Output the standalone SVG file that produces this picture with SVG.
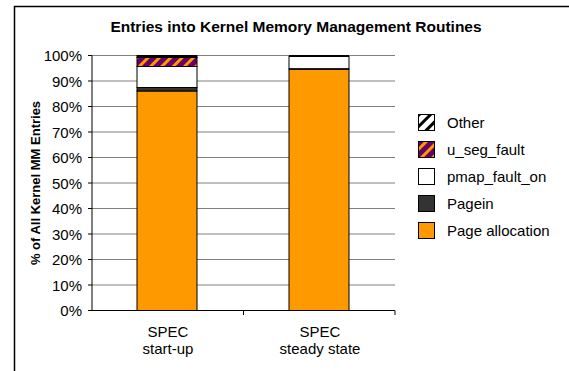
<svg xmlns="http://www.w3.org/2000/svg" width="569" height="371" viewBox="0 0 569 371">
<defs>
<style>
text{font-family:"Liberation Sans",Arial,sans-serif;fill:#000}
.t{font-size:15.5px;font-weight:bold}
.yt{font-size:13px;font-weight:bold}
.ax{font-size:15px;text-anchor:end}
.cat{font-size:15px;text-anchor:middle}
.lg{font-size:15px}
.grid{stroke:#808080;stroke-width:1}
.axis{stroke:#000;stroke-width:1}
.seg{stroke:#000;stroke-width:1}
</style>
<pattern id="useg" width="8" height="8" patternUnits="userSpaceOnUse" patternTransform="rotate(45)">
<rect width="8" height="8" fill="#660066"/>
<rect width="3" height="8" fill="#FF9900"/>
</pattern>
<pattern id="other" width="8" height="8" patternUnits="userSpaceOnUse" patternTransform="rotate(45)">
<rect width="8" height="8" fill="#fff"/>
<rect width="3" height="8" fill="#000"/>
</pattern>
</defs>
<rect x="14.5" y="6.5" width="600" height="400" fill="#fff" stroke="#000" stroke-width="1.5"/>
<text class="t" x="296" y="32" text-anchor="middle">Entries into Kernel Memory Management Routines</text>
<g id="grid">
<line class="grid" x1="92" y1="55.5" x2="395" y2="55.5"/>
<line class="grid" x1="92" y1="81" x2="395" y2="81"/>
<line class="grid" x1="92" y1="106.5" x2="395" y2="106.5"/>
<line class="grid" x1="92" y1="132" x2="395" y2="132"/>
<line class="grid" x1="92" y1="157.5" x2="395" y2="157.5"/>
<line class="grid" x1="92" y1="183" x2="395" y2="183"/>
<line class="grid" x1="92" y1="208.5" x2="395" y2="208.5"/>
<line class="grid" x1="92" y1="234" x2="395" y2="234"/>
<line class="grid" x1="92" y1="259.5" x2="395" y2="259.5"/>
<line class="grid" x1="92" y1="285" x2="395" y2="285"/>
</g>
<g id="axis-labels">
<text class="ax" x="82" y="61">100%</text>
<text class="ax" x="82" y="86.5">90%</text>
<text class="ax" x="82" y="112">80%</text>
<text class="ax" x="82" y="137.5">70%</text>
<text class="ax" x="82" y="163">60%</text>
<text class="ax" x="82" y="188.5">50%</text>
<text class="ax" x="82" y="214">40%</text>
<text class="ax" x="82" y="239.5">30%</text>
<text class="ax" x="82" y="265">20%</text>
<text class="ax" x="82" y="290.5">10%</text>
<text class="ax" x="82" y="316">0%</text>
<text class="yt" transform="translate(40,183) rotate(-90)" text-anchor="middle">% of All Kernel MM Entries</text>
</g>
<g id="bar-startup">
<rect class="seg" x="137" y="91" width="60" height="219.5" fill="#FF9900" stroke="#404040"/>
<rect class="seg" x="137" y="87.5" width="60" height="3.5" fill="#333"/>
<rect class="seg" x="137" y="66.5" width="60" height="21" fill="#fff"/>
<rect class="seg" x="137" y="57.5" width="60" height="9" fill="url(#useg)"/>
<rect class="seg" x="137" y="55.5" width="60" height="2" fill="#000"/>
</g>
<g id="bar-steady">
<rect class="seg" x="289" y="69" width="60" height="241.5" fill="#FF9900" stroke="#404040"/>
<rect class="seg" x="289" y="56.5" width="60" height="12.5" fill="#fff" stroke="#404040"/>
<line x1="289" y1="56" x2="349" y2="56" stroke="#000" stroke-width="2"/>
<line x1="289" y1="69" x2="349" y2="69" stroke="#000" stroke-width="1.5"/>
</g>
<g id="axes">
<line class="axis" x1="92" y1="55.5" x2="92" y2="310.5"/>
<line class="axis" x1="92" y1="310.5" x2="395" y2="310.5"/>
<path class="axis" fill="none" d="M88 55.5H92M88 81H92M88 106.5H92M88 132H92M88 157.5H92M88 183H92M88 208.5H92M88 234H92M88 259.5H92M88 285H92M88 310.5H92M243.5 310.5V315M395 310.5V315"/>
</g>
<g id="categories">
<text class="cat" x="168" y="337">SPEC</text>
<text class="cat" x="168" y="354">start-up</text>
<text class="cat" x="320" y="337">SPEC</text>
<text class="cat" x="320" y="354">steady state</text>
</g>
<g id="legend">
<rect x="418.5" y="114.5" width="16" height="16" fill="url(#other)" stroke="#000"/>
<text class="lg" x="447" y="127.5">Other</text>
<rect x="418.5" y="141.5" width="16" height="16" fill="url(#useg)" stroke="#000"/>
<text class="lg" x="447" y="154.5">u_seg_fault</text>
<rect x="418.5" y="168.5" width="16" height="16" fill="#fff" stroke="#000"/>
<text class="lg" x="447" y="181.5">pmap_fault_on</text>
<rect x="418.5" y="195.5" width="16" height="16" fill="#333" stroke="#000"/>
<text class="lg" x="447" y="208.5">Pagein</text>
<rect x="418.5" y="222.5" width="16" height="16" fill="#FF9900" stroke="#000"/>
<text class="lg" x="447" y="235.5">Page allocation</text>
</g>
</svg>
